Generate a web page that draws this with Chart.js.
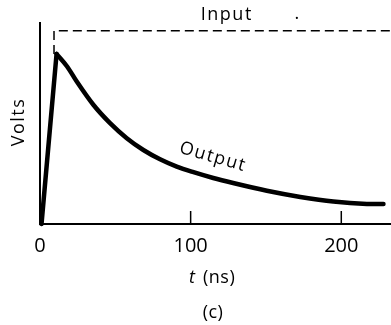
<!DOCTYPE html>
<html lang="en">
<head>
    <meta charset="UTF-8">
    <title>Output pulse</title>
    <script src="https://cdn.jsdelivr.net/npm/chart.js"></script>
    <style>
        html, body { margin: 0; padding: 0; background: #fff; }
        #wrap { width: 391px; height: 325px; position: relative; }
    </style>
</head>
<body>
<div id="wrap"><canvas id="pulseChart"></canvas></div>
<script>
    // Output pulse (t in ns, volts relative to the input level)
    // rising edge (straight)
    const riseT = [1, 11];
    const riseV = [0, 0.88];
    // decay
    const decayT = [11, 18, 24.4, 35.4, 46.5, 57.6, 68.6, 79.7, 90.8, 101.9, 115, 128.2, 150.6, 172.8, 194.7, 217, 228];
    const decayV = [0.88, 0.815, 0.737, 0.617, 0.522, 0.444, 0.383, 0.335, 0.297, 0.268, 0.238, 0.212, 0.172, 0.140, 0.116, 0.104, 0.103];

    // Input step (dashed)
    const inputT = [9.3, 9.3, 233];
    const inputV = [0.88, 1.0, 1.0];

    const xTicks = [0, 100, 200];
    const xMax = 233;
    const yMax = 1.04;

    const FONT = '"Open Sans", "Liberation Sans", sans-serif';

    const toPoints = (xs, ys) => xs.map((x, i) => ({ x: x, y: ys[i] }));

    // inward tick marks + free text labels
    const extras = {
        id: 'extras',
        afterDraw(chart) {
            const c = chart.ctx;
            const xs = chart.scales.x;
            const area = chart.chartArea;
            c.save();
            c.strokeStyle = '#000';
            c.lineWidth = 1.5;
            xTicks.slice(1).forEach(v => {
                const px = xs.getPixelForValue(v);
                c.beginPath();
                c.moveTo(px, area.bottom);
                c.lineTo(px, area.bottom - 13);
                c.stroke();
            });

            c.fillStyle = '#000';
            c.textAlign = 'center';
            c.textBaseline = 'alphabetic';
            c.font = '18px ' + FONT;
            c.letterSpacing = '1.5px';
            c.fillText('Input', xs.getPixelForValue(124), 20);
            c.fillText('.', xs.getPixelForValue(171), 19);

            // Output label along the curve
            c.save();
            c.translate(213, 157);
            c.rotate(16 * Math.PI / 180);
            c.textBaseline = 'middle';
            c.fillText('Output', 0, 0);
            c.restore();

            // Volts
            c.save();
            c.translate(24, 122);
            c.rotate(-Math.PI / 2);
            c.fillText('Volts', 0, 0);
            c.restore();

            // t (ns)
            c.letterSpacing = '0.5px';
            c.textAlign = 'left';
            c.font = 'italic 18px ' + FONT;
            const tx = 189;
            c.fillText('t', tx, 283);
            c.font = '18px ' + FONT;
            c.fillText('(ns)', tx + 14, 283);

            c.textAlign = 'center';
            c.fillText('(c)', 213, 318);
            c.restore();
        }
    };

    const lineStyle = {
        borderColor: '#000',
        borderWidth: 4.5,
        pointRadius: 0,
        borderCapStyle: 'round',
        borderJoinStyle: 'round',
        clip: false
    };

    new Chart(document.getElementById('pulseChart'), {
        type: 'line',
        data: {
            datasets: [
                Object.assign({ label: 'Output rise', data: toPoints(riseT, riseV), tension: 0 }, lineStyle),
                Object.assign({ label: 'Output', data: toPoints(decayT, decayV), cubicInterpolationMode: 'monotone' }, lineStyle),
                {
                    label: 'Input',
                    data: toPoints(inputT, inputV),
                    borderColor: '#000',
                    borderWidth: 1.5,
                    borderDash: [9, 5],
                    pointRadius: 0,
                    tension: 0,
                    clip: false
                }
            ]
        },
        options: {
            responsive: true,
            maintainAspectRatio: false,
            animation: false,
            layout: { padding: { top: 23, right: 0, left: 0, bottom: 0 } },
            plugins: { legend: { display: false }, tooltip: { enabled: false } },
            scales: {
                x: {
                    type: 'linear',
                    min: 0,
                    max: xMax,
                    afterFit: s => { s.height = 101; },
                    afterBuildTicks: s => { s.ticks = xTicks.map(v => ({ value: v })); },
                    grid: { display: false, drawTicks: false },
                    border: { display: true, color: '#000', width: 2 },
                    ticks: {
                        padding: 10,
                        color: '#000',
                        font: { family: FONT, size: 20 },
                        maxRotation: 0
                    }
                },
                y: {
                    min: 0,
                    max: yMax,
                    afterFit: s => { s.width = 40; },
                    grid: { display: false, drawTicks: false },
                    border: { display: true, color: '#000', width: 2 },
                    ticks: { display: false }
                }
            }
        },
        plugins: [extras]
    });
</script>
</body>
</html>
